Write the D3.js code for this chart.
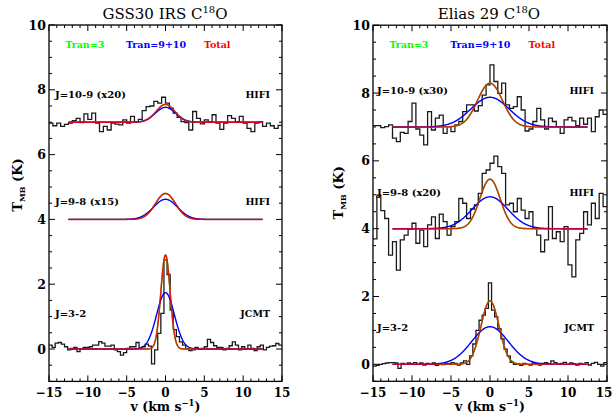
<!DOCTYPE html>
<html><head><meta charset="utf-8">
<script src="https://cdn.jsdelivr.net/npm/d3@7"></script>
<style>
html,body{margin:0;padding:0;background:#fff;}
svg{display:block;}
</style></head>
<body>
<svg id="c" width="613" height="415"></svg>
<script>
// ---------------- DATA ----------------
const xTickValues = [-15, -10, -5, 0, 5, 10, 15];
const yTickValues = [0, 2, 4, 6, 8, 10];
const legendLabels = ["Tran=3", "Tran=9+10", "Total"];
const panelTitles = ["GSS30 IRS C", "Elias 29 C"];
const lineLabels = ["J=10-9", "J=9-8", "J=3-2"];
const leftScaleLabels = ["(x20)", "(x15)", ""];
const rightScaleLabels = ["(x30)", "(x20)", ""];
const telescopeLabels = ["HIFI", "HIFI", "JCMT"];

// spectra: channel start velocity, channel width, channel values (K)
const gssJ109Start = -15, gssJ109Width = 0.5;
const gssJ109 = [6.97,6.89,6.97,6.87,6.93,6.97,7.05,7.12,6.99,7.26,7.09,7.28,6.97,6.71,6.87,6.76,6.97,6.94,6.92,7.07,
  6.97,7.18,7.02,7.09,7.36,7.48,7.5,7.64,7.59,7.77,7.59,7.43,7.28,7.15,7.02,6.99,6.76,7.33,7.12,6.95,
  7.07,7.02,7.23,6.97,6.78,6.97,7.2,7.12,7.02,7.18,6.97,6.81,6.71,6.97,7.02,6.87,6.97,6.89,6.81,6.9];
const gssJ32Start = -15, gssJ32Width = 0.4;
const gssJ32 = [0.12,0.05,0.18,0.2,0.15,0.07,-0.03,0.02,0.05,-0.08,-0.01,0.05,0.05,0.07,0.12,0.12,0.23,0.18,0.09,0.09,
  0.12,-0.03,-0.08,-0.19,-0.11,0.02,0.07,0.07,0.2,0.02,0.07,0.15,0.09,-0.46,-0.03,0.48,1.1,2.75,2.3,1.2,
  0.6,0.38,0.22,0.12,0.0,-0.05,-0.03,0.05,0.0,0.02,0.07,0.3,0.2,0.1,0.05,0.05,-0.03,0.02,0.1,0.22,
  0.12,-0.03,0.07,-0.01,0.12,0.02,-0.05,0.07,0.12,-0.03,0.05,0.09,0.1,0.17,0.12];
const eliasJ109Start = -15, eliasJ109Width = 0.5;
const eliasJ109 = [7.04,7.04,6.98,7.01,7.06,6.67,6.57,6.84,6.81,7.16,7.7,6.94,6.76,6.47,7.45,6.91,7.26,7.35,6.81,7.01,
  6.86,7.06,7.16,7.45,7.65,7.65,7.47,7.63,7.94,8.24,8.83,8.34,7.99,8.29,7.65,7.55,7.6,7.89,7.5,6.88,
  6.94,7.16,7.55,7.21,6.94,7.26,7.16,7.01,6.81,7.21,7.28,7.18,7.04,7.26,7.08,7.26,6.86,7.3,7.5,7.37];
const eliasJ98Start = -15, eliasJ98Width = 0.5;
const eliasJ98 = [3.7,4.99,4.53,4.3,3.22,3.62,2.78,3.67,3.81,3.98,4.16,3.57,3.96,3.47,4.11,4.35,3.71,4.43,4.21,3.81,
  4.06,4.21,4.89,4.75,4.3,4.58,4.7,5.04,5.63,5.73,5.93,6.14,5.83,5.63,4.7,4.75,4.5,4.89,4.55,4.3,
  4.5,4.01,3.81,3.32,3.67,4.65,3.71,3.91,3.62,4.06,2.93,2.58,3.67,3.86,4.5,4.11,4.75,4.3,5.04,4.65];
const eliasJ32Start = -15, eliasJ32Width = 0.4;
const eliasJ32 = [-0.05,-0.03,0.0,0.02,0.04,0.05,0.05,0.04,-0.12,0.03,0.0,0.04,0.02,0.05,0.0,0.04,-0.02,0.03,0.0,0.04,
  -0.03,0.02,-0.01,0.03,0.02,0.05,0.03,-0.02,0.04,0.1,0.0,0.25,0.6,1.0,1.3,1.45,1.65,2.4,1.6,1.4,
  1.05,0.75,0.45,0.25,0.06,0.0,0.02,-0.03,0.03,0.0,-0.02,0.04,0.02,-0.02,0.03,0.05,0.02,0.1,0.05,0.0,
  0.03,0.06,0.0,0.04,0.02,-0.02,0.03,0.0,0.05,-0.02,0.03,0.06,0.0,-0.05,0.05];

// Gaussian model fits (J=10-9, J=9-8, J=3-2): baseline, amplitude, sigma
const gssBaseline = [7, 4, 0];
const gssTotalAmp = [0.55, 0.8, 2.9];
const gssTotalSigma = [1.2, 1.3, 0.6];
const gssBlueAmp = [0.46, 0.62, 1.74];
const gssBlueSigma = [1.3, 1.55, 1.15];
const eliasBaseline = [7, 4, 0];
const eliasTotalAmp = [1.29, 1.46, 1.87];
const eliasTotalSigma = [1.6, 1.3, 1.15];
const eliasBlueAmp = [0.875, 0.94, 1.11];
const eliasBlueSigma = [2.45, 2.3, 2.35];
const modelRange = [-12.5, 12.5];

// ---------------- DRAW ----------------
const svg = d3.select("#c");
const serif = "'DejaVu Serif', serif";

const panels = [
  { x0: 49, x1: 282, yDom: [-1, 10], yRange: [381.4, 25], title: panelTitles[0], titleX: 165,
    specs: [[gssJ109Start, gssJ109Width, gssJ109], [gssJ32Start, gssJ32Width, gssJ32]],
    base: gssBaseline, tA: gssTotalAmp, tS: gssTotalSigma, bA: gssBlueAmp, bS: gssBlueSigma,
    scaleLabels: leftScaleLabels, labelY: [98, 205, 317], labelX: 55, telX: 270, ylabX: 22, clipId: "cl",
    redOpacity: 0.85 },
  { x0: 373, x1: 607, yDom: [-0.5, 10], yRange: [381.3, 25.2], title: panelTitles[1], titleX: 489,
    specs: [[eliasJ109Start, eliasJ109Width, eliasJ109], [eliasJ98Start, eliasJ98Width, eliasJ98], [eliasJ32Start, eliasJ32Width, eliasJ32]],
    base: eliasBaseline, tA: eliasTotalAmp, tS: eliasTotalSigma, bA: eliasBlueAmp, bS: eliasBlueSigma,
    scaleLabels: rightScaleLabels, labelY: [94, 196, 331], labelX: 377, telX: 594, ylabX: 343, clipId: "cr",
    redOpacity: 0.75 }
];

panels.forEach(p => {
  const x = d3.scaleLinear().domain([-15, 15]).range([p.x0, p.x1]);
  const y = d3.scaleLinear().domain(p.yDom).range(p.yRange);
  const top = p.yRange[1], bot = p.yRange[0];

  svg.append("clipPath").attr("id", p.clipId).append("rect")
    .attr("x", p.x0).attr("y", top).attr("width", p.x1 - p.x0).attr("height", bot - top);
  const g = svg.append("g").attr("clip-path", `url(#${p.clipId})`);

  // spectra
  p.specs.forEach(([v0, dv, vals]) => {
    const pts = vals.map((t, i) => [v0 + i * dv, t]);
    pts.push([v0 + vals.length * dv, vals[vals.length - 1]]);
    g.append("path").datum(pts)
      .attr("d", d3.line().x(d => x(d[0])).y(d => y(d[1])).curve(d3.curveStepAfter))
      .attr("fill", "none").attr("stroke", "#1a1a1a").attr("stroke-width", 1.3);
  });

  // models
  const vgrid = d3.range(modelRange[0], modelRange[1] + 0.001, 0.05);
  const gauss = (b, a, s) => vgrid.map(v => [v, b + a * Math.exp(-v * v / (2 * s * s))]);
  const ln = d3.line().x(d => x(d[0])).y(d => y(d[1]));
  p.base.forEach((b, k) => {
    g.append("path").datum(gauss(b, p.tA[k], p.tS[k])).attr("d", ln)
      .attr("fill", "none").attr("stroke", "#00e000").attr("stroke-width", 1.4);
    g.append("path").datum(gauss(b, p.bA[k], p.bS[k])).attr("d", ln)
      .attr("fill", "none").attr("stroke", "#0000ff").attr("stroke-width", 1.4);
    g.append("path").datum(gauss(b, p.tA[k], p.tS[k])).attr("d", ln)
      .attr("fill", "none").attr("stroke", "#ff0000").attr("stroke-opacity", p.redOpacity).attr("stroke-width", 1.5);
  });

  // frame
  svg.append("rect").attr("x", p.x0).attr("y", top).attr("width", p.x1 - p.x0).attr("height", bot - top)
    .attr("fill", "none").attr("stroke", "#000").attr("stroke-width", 1.3);

  // ticks (inward, all sides)
  const tk = svg.append("g").attr("stroke", "#000").attr("stroke-width", 1);
  d3.range(-15, 15.001, 1).forEach(v => {
    const len = (v % 5 === 0) ? 6 : 3;
    tk.append("line").attr("x1", x(v)).attr("x2", x(v)).attr("y1", bot).attr("y2", bot - len);
    tk.append("line").attr("x1", x(v)).attr("x2", x(v)).attr("y1", top).attr("y2", top + len);
  });
  d3.range(Math.ceil(p.yDom[0] * 2) / 2, 10.001, 0.5).forEach(v => {
    const len = (Math.abs(v % 2) < 1e-6) ? 6 : 3;
    tk.append("line").attr("y1", y(v)).attr("y2", y(v)).attr("x1", p.x0).attr("x2", p.x0 + len);
    tk.append("line").attr("y1", y(v)).attr("y2", y(v)).attr("x1", p.x1).attr("x2", p.x1 - len);
  });

  // tick labels
  xTickValues.forEach(v => {
    const xp = Math.min(x(v), 604);
    svg.append("text").attr("x", xp).attr("y", 397).attr("text-anchor", "middle")
      .attr("font-family", serif).attr("font-weight", "bold").attr("font-size", 12)
      .text(v < 0 ? "\u2212" + Math.abs(v) : String(v));
  });
  yTickValues.forEach(v => {
    svg.append("text").attr("x", p.x0 - 3).attr("y", y(v) + 4.5).attr("text-anchor", "end")
      .attr("font-family", serif).attr("font-weight", "bold").attr("font-size", 12.5).text(String(v));
  });

  // axis titles
  const xl = svg.append("text").attr("x", x(0)).attr("y", 411).attr("text-anchor", "middle")
    .attr("font-family", serif).attr("font-weight", "bold").attr("font-size", 12.5);
  xl.append("tspan").text("v (km s");
  xl.append("tspan").attr("dy", -5).attr("font-size", 8.5).text("\u22121");
  xl.append("tspan").attr("dy", 5).text(")");

  const yc = (y(4) + y(6)) / 2 - 2;
  const yl = svg.append("text").attr("transform", `translate(${p.ylabX},${yc}) rotate(-90)`)
    .attr("text-anchor", "middle").attr("font-family", serif).attr("font-weight", "bold").attr("font-size", 13);
  yl.append("tspan").text("T");
  yl.append("tspan").attr("dy", 3).attr("font-size", 8).text("MB");
  yl.append("tspan").attr("dy", -3).text(" (K)");

  // title
  const tt = svg.append("text").attr("x", p.titleX).attr("y", 19).attr("text-anchor", "middle")
    .attr("font-family", serif).attr("font-size", 15);
  tt.append("tspan").text(p.title);
  tt.append("tspan").attr("dy", -6).attr("font-size", 10).text("18");
  tt.append("tspan").attr("dy", 6).text("O");

  // legend
  const legColors = ["#00ff00", "#0000ff", "#ff0000"];
  const legX = [x(-12.9), x(-5.1), x(4.95)];
  legendLabels.forEach((t, i) => {
    svg.append("text").attr("x", legX[i]).attr("y", 48).attr("fill", legColors[i])
      .attr("font-family", serif).attr("font-weight", "bold").attr("font-size", 9.5).text(t);
  });

  // line labels
  lineLabels.forEach((t, i) => {
    const s = p.scaleLabels[i] ? t + " " + p.scaleLabels[i] : t;
    svg.append("text").attr("x", p.labelX).attr("y", p.labelY[i])
      .attr("font-family", serif).attr("font-weight", "bold").attr("font-size", 10).text(s);
    svg.append("text").attr("x", p.telX).attr("y", p.labelY[i]).attr("text-anchor", "end")
      .attr("font-family", serif).attr("font-weight", "bold").attr("font-size", 9.5).text(telescopeLabels[i]);
  });
});
</script>
</body></html>
